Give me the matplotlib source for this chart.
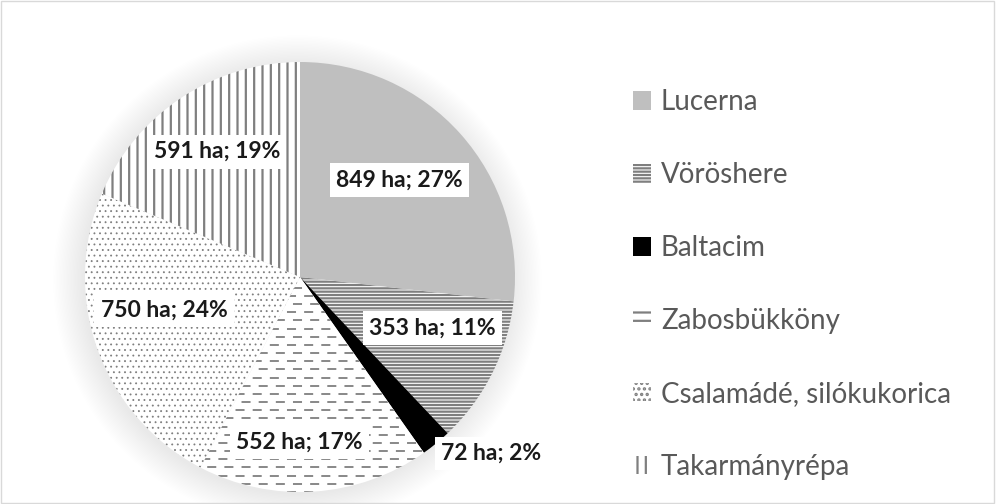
import numpy as np
import matplotlib.pyplot as plt
from matplotlib.patches import Patch, Circle, Rectangle

# data
crops = ['Lucerna', 'Vöröshere', 'Baltacim', 'Zabosbükköny',
         'Csalamádé, silókukorica', 'Takarmányrépa']
area_ha = [849, 353, 72, 552, 750, 591]

# styling per slice
faces = ['#bfbfbf', 'white', 'black', 'white', 'white', 'white']
hatches = [None, '-----', None, None, '...', '||']
label_r = [0.645, 0.66, 1.21, 0.77, 0.65, 0.70]
label_dang = [2.5, 5.5, 8, -4, -6, 0]

plt.rcParams['font.family'] = ['Lato', 'DejaVu Sans']
plt.rcParams['hatch.linewidth'] = 1.6

fig = plt.figure(figsize=(9.96, 5.04), dpi=100)
R_PX = 215
L = 1.25
w = 2 * L * R_PX
ax = fig.add_axes([(300 - w / 2) / 996, (504 - 277 - w / 2) / 504, w / 996, w / 504])
ax.set_xlim(-L, L)
ax.set_ylim(-L, L)
ax.axis('off')

# soft shadow round the pie
for k in range(22):
    ax.add_patch(Circle((-0.012, -0.012), 1.0 + 0.0065 * k, color='black',
                        alpha=0.0055, lw=0, zorder=0))

wedges, _ = ax.pie(area_ha, startangle=90, counterclock=False, radius=1,
                   colors=faces, wedgeprops=dict(linewidth=0, edgecolor='#7f7f7f'))
for wd, h in zip(wedges, hatches):
    wd.set_zorder(2)
    if h:
        wd.set_hatch(h)
if hasattr(wedges[4], 'set_hatch_linewidth'):
    wedges[4].set_hatch_linewidth(0.6)

# dashed pattern for Zabosbükköny
zab = wedges[3]
for i, y in enumerate(np.arange(-1.0, 1.0, 0.038)):
    off = 0.0 if i % 2 == 0 else 0.03
    ln, = ax.plot([-1.1 + off, 1.1], [y, y], color='#7f7f7f', lw=1.3,
                  dashes=(5, 4.5), zorder=3)
    ln.set_clip_path(zab)

total = sum(area_ha)
for wd, v, r, da in zip(wedges, area_ha, label_r, label_dang):
    mid = np.deg2rad((wd.theta1 + wd.theta2) / 2 + da)
    ax.text(r * np.cos(mid), r * np.sin(mid), f'{v} ha; {round(100 * v / total)}%',
            ha='center', va='center', fontsize=16.5, fontweight='bold', color='#1a1a1a',
            bbox=dict(boxstyle='square,pad=0.28', fc='white', ec='none'), zorder=5)

handles = []
for i, (c, h) in enumerate(zip(faces, hatches)):
    if i == 3:
        h = '--'
    handles.append(Patch(facecolor=c, hatch=h, edgecolor='#7f7f7f', linewidth=0))
leg = fig.legend(handles, crops, loc='upper left', bbox_to_anchor=(622 / 996, 1 - 78 / 504),
                 frameon=False, fontsize=20, labelspacing=1.69, handlelength=0.65,
                 handleheight=0.65, handletextpad=0.35, borderaxespad=0)
for t in leg.get_texts():
    t.set_color('#595959')

fig.add_artist(Rectangle((0.001, 0.001), 0.997, 0.997, transform=fig.transFigure,
                         fill=False, ec='#d9d9d9', lw=1))
fig.savefig('out.png', dpi=100)
